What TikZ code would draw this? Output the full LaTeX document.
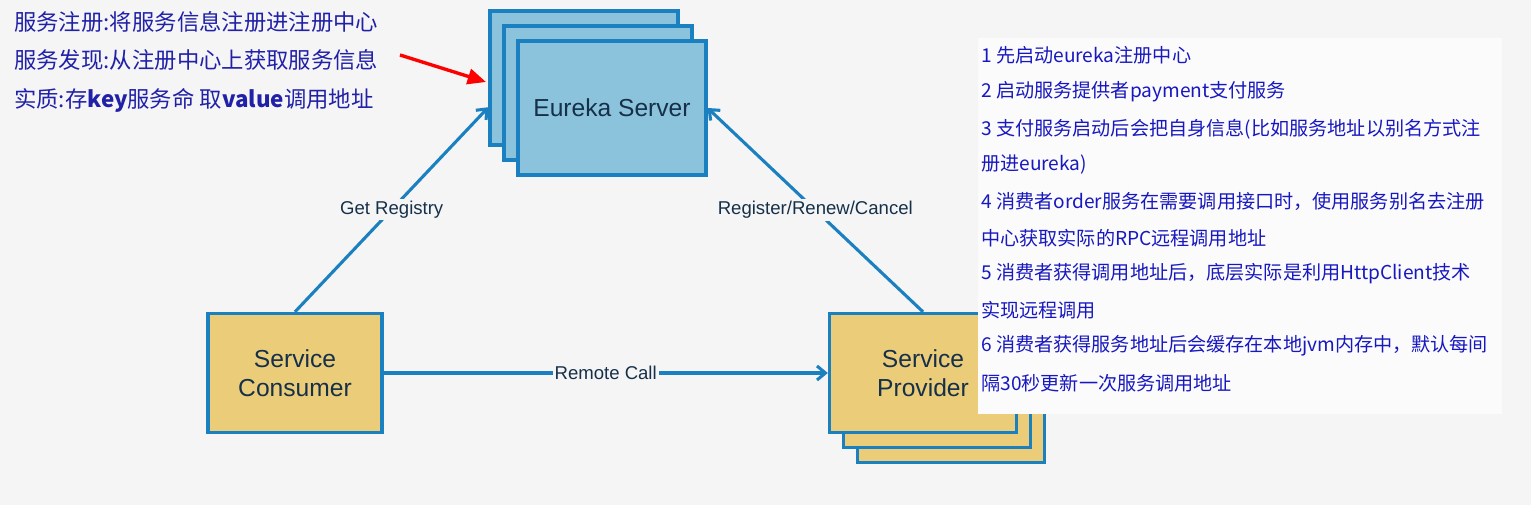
\documentclass[tikz,border=0pt]{standalone}
\usepackage{fontspec}
\setmainfont{Liberation Sans}
\newfontfamily\cjk{Noto Sans CJK SC}
\usetikzlibrary{arrows.meta}
\definecolor{bggray}{HTML}{F5F5F5}
\definecolor{notepaper}{HTML}{FBFBFB}
\definecolor{lineblue}{HTML}{1A80C0}
\definecolor{serverblue}{HTML}{8CC3DC}
\definecolor{clientyellow}{HTML}{EBCD79}
\definecolor{labeldark}{HTML}{16304A}
\definecolor{noteblue}{HTML}{2020A8}
\definecolor{stepblue}{HTML}{1818C0}
\tikzset{
  box/.style={draw=lineblue, line width=2.2pt, inner sep=0pt, align=center,
    text=labeldark, font=\fontsize{17.5}{20.5}\selectfont},
  serverbox/.style={box, fill=serverblue, minimum width=4.7cm, minimum height=3.35cm},
  clientbox/.style={box, fill=clientyellow, minimum width=4.35cm, minimum height=2.98cm},
  providerbox/.style={box, fill=clientyellow, minimum width=4.68cm, minimum height=2.98cm},
  flow/.style={draw=lineblue, line width=2.2pt, -{Straight Barb[length=6pt,width=10pt]}},
  flowlabel/.style={fill=bggray, inner sep=1.5pt, text=labeldark, font=\fontsize{13.2}{15}\selectfont},
  leftnote/.style={anchor=west, inner sep=0pt, text=noteblue, font=\cjk\fontsize{15.9}{18}\selectfont},
  stepnote/.style={anchor=west, inner sep=0pt, text=stepblue, font=\cjk\fontsize{13.6}{15}\selectfont}
}
\begin{document}
\begin{tikzpicture}[x=0.025cm,y=-0.025cm]
  % background
  \fill[bggray] (0,0) rectangle (1531,505);
  \useasboundingbox (0,0) rectangle (1531,505);

  % eureka server stack
  \node[serverbox] (eurekaback) at (584,78) {};
  \node[serverbox] (eurekamid) at (598,93) {};
  \node[serverbox] (eureka) at (612,108) {Eureka Server};

  % consumer
  \node[clientbox] (consumer) at (295,373) {Service\\Consumer};

  % provider stack
  \node[providerbox] (providerback) at (951,403) {};
  \node[providerbox] (providermid) at (937,388) {};
  \node[providerbox] (provider) at (923,373) {Service\\Provider};

  % connectors
  \draw[flow] (consumer.north) -- node[flowlabel]{Get Registry} (eurekaback.197);
  \draw[flow] (provider.north) -- node[flowlabel]{Register/Renew/Cancel} (eureka.east);
  \draw[flow] (consumer.east) -- node[flowlabel]{Remote Call} (provider.west);

  % red pointer
  \coordinate (redstart) at (400,55);
  \coordinate (redend) at (486,82);
  \draw[red, line width=2.4pt, -{Triangle[length=13pt,width=11pt]}] (redstart) -- (redend);

  % left notes
  \node[leftnote] (noteone) at (14,22) {服务注册:将服务信息注册进注册中心};
  \node[leftnote] (notetwo) at (14,60) {服务发现:从注册中心上获取服务信息};
  \node[leftnote] (notethree) at (14,100) {实质:存\textbf{key}服务命 取\textbf{value}调用地址};

  % right steps
  \fill[notepaper] (978,38) rectangle (1502,414);
  \node[stepnote] (stepone) at (981,55) {1 先启动eureka注册中心};
  \node[stepnote] (steptwo) at (981,92) {2 启动服务提供者payment支付服务};
  \node[stepnote] (stepthree) at (981,129) {3 支付服务启动后会把自身信息(比如服务地址以别名方式注};
  \node[stepnote] (stepthreeb) at (981,165) {册进eureka)};
  \node[stepnote] (stepfour) at (981,201) {4 消费者order服务在需要调用接口时，使用服务别名去注册};
  \node[stepnote] (stepfourb) at (981,238) {中心获取实际的RPC远程调用地址};
  \node[stepnote] (stepfive) at (981,274) {5 消费者获得调用地址后，底层实际是利用HttpClient技术};
  \node[stepnote] (stepfiveb) at (981,310) {实现远程调用};
  \node[stepnote] (stepsix) at (981,346) {6 消费者获得服务地址后会缓存在本地jvm内存中，默认每间};
  \node[stepnote] (stepsixb) at (981,383) {隔30秒更新一次服务调用地址};
\end{tikzpicture}
\end{document}
